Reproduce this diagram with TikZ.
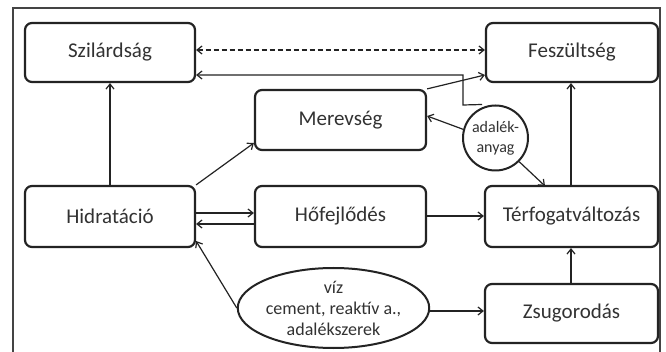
\documentclass[tikz,border=0pt]{standalone}
\usepackage{fontspec}
\setmainfont{Carlito}
\usetikzlibrary{arrows.meta,shapes.geometric}
\definecolor{txt}{RGB}{50,50,50}
\definecolor{ln}{RGB}{35,35,35}
\begin{document}
\begin{tikzpicture}[x=1pt,y=-1pt,
  box/.style={draw=ln,line width=2.2pt,rounded corners=7pt,inner sep=0pt,text=txt,font=\fontsize{21}{24}\selectfont},
  arr/.style={draw=ln,line width=1.2pt,-{Straight Barb[length=5pt,width=8pt]}},
  every node/.style={anchor=center}]
\useasboundingbox (0,0) rectangle (666,352);
\fill[white] (0,0) rectangle (666,352);
\draw[line width=1.4pt,color=ln!85] (13,352) -- (13,8) -- (660,8) -- (660,352);
\node[box,minimum width=170pt,minimum height=59pt] (szil) at (110,52.5) {Szilárdság};
\node[box,minimum width=172pt,minimum height=59pt] (fesz) at (572,52.5) {Feszültség};
\node[box,minimum width=171pt,minimum height=60pt] (mere) at (340.5,120) {Merevség};
\node[box,minimum width=170pt,minimum height=61pt] (hidr) at (110,216.5) {Hidratáció};
\node[box,minimum width=171pt,minimum height=61pt] (hofe) at (340.5,216.5) {Hőfejlődés};
\node[box,minimum width=173pt,minimum height=61pt] (terf) at (571.5,216.5) {Térfogatváltozás};
\node[box,minimum width=173pt,minimum height=59pt] (zsug) at (571.5,313.5) {Zsugorodás};
\node[draw=ln,line width=2pt,circle,minimum size=65pt,inner sep=0pt,text=txt,
  font=\fontsize{16}{20}\selectfont,align=center] (adal) at (495.5,138) {adalék-\\anyag};
\node[draw=ln,line width=2pt,ellipse,minimum width=157pt,minimum height=80pt,inner sep=0pt,text=txt,
  font=\fontsize{18}{21}\selectfont,align=center] (viz) at (333.5,308) {víz\\cement, reaktív a.,\\adalékszerek};
% connectors
\draw[arr,dash pattern=on 5pt off 3pt,{Straight Barb[length=5pt,width=8pt]}-{Straight Barb[length=5pt,width=8pt]}]
  (szil.east |- 0,50) -- (fesz.west |- 0,50);
\coordinate (k1) at (463,105);
\coordinate (k2) at (463,75);
\draw[arr] (adal.north -| 482,0) -- (k1) -- (k2) -- (szil.east |- k2);
\draw[arr] (hidr.north -| 110,0) -- (szil.south -| 110,0);
\draw[arr] (hidr.north east) -- (mere.west |- 0,143);
\draw[arr] (mere.north east) -- (fesz.west |- 0,75);
\draw[arr] (adal.165) -- (mere.east |- 0,116);
\draw[arr] (adal.south east) -- (545,186);
\draw[arr] (hidr.east |- 0,213) -- (hofe.west |- 0,213);
\draw[arr] (hofe.west |- 0,224) -- (hidr.east |- 0,224);
\draw[arr] (hofe.east |- 0,216) -- (terf.west |- 0,216);
\draw[arr] (viz.west) -- (hidr.east |- 0,241);
\draw[arr] (viz.east |- 0,311) -- (zsug.west |- 0,311);
\draw[arr] (zsug.north -| 571,0) -- (terf.south -| 571,0);
\draw[arr] (terf.north -| 571,0) -- (fesz.south -| 571,0);
\end{tikzpicture}
\end{document}
